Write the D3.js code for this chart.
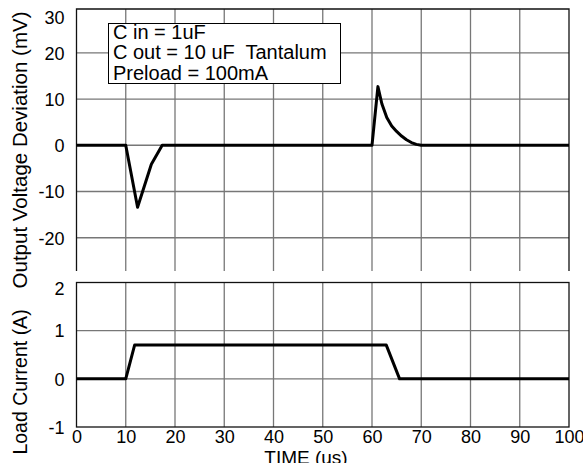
<!DOCTYPE html>
<html><head><meta charset="utf-8">
<script src="https://cdn.jsdelivr.net/npm/d3@7"></script>
<style>body{margin:0;background:#fff}svg{display:block}text{font-family:"Liberation Sans",Arial,sans-serif;fill:#000;white-space:pre}</style>
</head><body>
<script>
// ---- data ----
const xTicks = [0,10,20,30,40,50,60,70,80,90,100];
const vTicks = [-20,-10,0,10,20,30];
const iTicks = [-1,0,1,2];
const vTime = [0,10,12.4,15.2,17.4,60,61.2,62,63,64,65,66,67,68,69,70,100];
const vDev  = [0,0,-13.4,-4.1,0,0,12.7,9,6,4.2,3,2,1.2,0.6,0.2,0,0];
const iTime = [0,10,11.8,62.9,65.6,100];
const iLoad = [0,0,0.7,0.7,0,0];
const legendLines = ["C in = 1uF","C out = 10 uF  Tantalum","Preload = 100mA"];
const xLabel = "TIME (us)";
const yLabelTop = "Output Voltage Deviation (mV)";
const yLabelBot = "Load Current (A)";

const W=583,H=463;
const svg=d3.select("body").append("svg").attr("width",W).attr("height",H);
const x=d3.scaleLinear().domain([0,100]).range([76.5,569]);
const yV=d3.scaleLinear().domain([-27.2,29.5]).range([271,9]);
const yI=d3.scaleLinear().domain([-1,2]).range([427,282.5]);
const gridC="#777";
const fmt=d=>String(d);

// top panel grid
const gT=svg.append("g");
gT.selectAll("line.h").data(vTicks.filter(v=>v<30)).enter().append("line")
  .attr("x1",x(0)).attr("x2",x(100)).attr("y1",d=>yV(d)).attr("y2",d=>yV(d))
  .attr("stroke",gridC).attr("stroke-width",1.4);
gT.selectAll("line.v").data(xTicks.filter(v=>v>0&&v<100)).enter().append("line")
  .attr("x1",d=>x(d)).attr("x2",d=>x(d)).attr("y1",yV(29.5)).attr("y2",yV(-27.2))
  .attr("stroke",gridC).attr("stroke-width",1.3);
gT.append("path").attr("d",`M${x(0)},${yV(-27.2)}V${yV(29.5)}H${x(100)}V${yV(-27.2)}`)
  .attr("fill","none").attr("stroke","#111").attr("stroke-width",1.3);

// bottom panel grid
const gB=svg.append("g");
gB.selectAll("line.h").data([0,1]).enter().append("line")
  .attr("x1",x(0)).attr("x2",x(100)).attr("y1",d=>yI(d)).attr("y2",d=>yI(d))
  .attr("stroke",gridC).attr("stroke-width",1.4);
gB.selectAll("line.v").data(xTicks.filter(v=>v>0&&v<100)).enter().append("line")
  .attr("x1",d=>x(d)).attr("x2",d=>x(d)).attr("y1",yI(2)).attr("y2",yI(-1))
  .attr("stroke",gridC).attr("stroke-width",1.3);
gB.append("rect").attr("x",x(0)).attr("y",yI(2)).attr("width",x(100)-x(0)).attr("height",yI(-1)-yI(2))
  .attr("fill","none").attr("stroke","#111").attr("stroke-width",1.3);

// axes (labels only)
const fs=18;
const axV=svg.append("g").attr("transform",`translate(${x(0)},0)`)
  .call(d3.axisLeft(yV).tickValues(vTicks).tickSize(0).tickPadding(12).tickFormat(fmt));
axV.select(".domain").remove();
axV.selectAll("text").style("font-size",fs+"px").attr("dy",d=>d===30?"0.95em":"0.35em");
const axI=svg.append("g").attr("transform",`translate(${x(0)},0)`)
  .call(d3.axisLeft(yI).tickValues(iTicks).tickSize(0).tickPadding(12).tickFormat(fmt));
axI.select(".domain").remove();
axI.selectAll("text").style("font-size",fs+"px").attr("dy",d=>d===2?"0.65em":"0.35em");
const axX=svg.append("g").attr("transform",`translate(0,${yI(-1)})`)
  .call(d3.axisBottom(x).tickValues(xTicks).tickSize(0).tickPadding(3).tickFormat(fmt));
axX.select(".domain").remove();
axX.selectAll("text").style("font-size",fs+"px");

// lines
svg.append("path").datum(vTime.map((t,i)=>[t,vDev[i]]))
  .attr("d",d3.line().x(d=>x(d[0])).y(d=>yV(d[1])))
  .attr("fill","none").attr("stroke","#000").attr("stroke-width",3).attr("stroke-linejoin","round");
svg.append("path").datum(iTime.map((t,i)=>[t,iLoad[i]]))
  .attr("d",d3.line().x(d=>x(d[0])).y(d=>yI(d[1])))
  .attr("fill","none").attr("stroke","#000").attr("stroke-width",3).attr("stroke-linejoin","round");

// legend
svg.append("rect").attr("x",108.5).attr("y",23.5).attr("width",232).attr("height",60)
  .attr("fill","#fff").attr("stroke","#000").attr("stroke-width",1);
svg.selectAll("text.leg").data(legendLines).enter().append("text")
  .attr("x",113).attr("y",(d,i)=>38.5+i*20.5).style("font-size","20px").text(d=>d);

// axis titles
svg.append("text").attr("x",306).attr("y",464).attr("text-anchor","middle").style("font-size","19px").text(xLabel);
svg.append("text").attr("transform","translate(27,150) rotate(-90)").attr("text-anchor","middle").style("font-size","20.5px").text(yLabelTop);
svg.append("text").attr("transform","translate(27,382) rotate(-90)").attr("text-anchor","middle").style("font-size","19.5px").text(yLabelBot);
</script>
</body></html>
